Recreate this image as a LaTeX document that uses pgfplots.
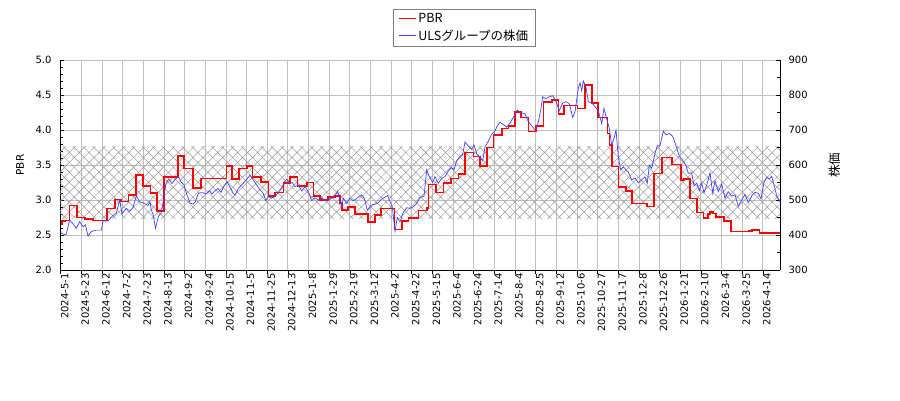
\documentclass[border=0pt]{standalone}
\usepackage{fontspec}
\setmainfont{DejaVu Sans}
\newfontfamily\cjk{Noto Sans CJK JP}
\usepackage{pgfplots}
\pgfplotsset{compat=1.18}
\usetikzlibrary{patterns.meta}

\definecolor{pbrred}{rgb}{1,0,0}
\definecolor{priceblue}{rgb}{0.25,0.25,1}
\definecolor{gridgray}{gray}{0.75}
\definecolor{hatchgray}{gray}{0.6}

% x positions are in chart units (one unit per pixel of the 720-wide plot area)
\pgfplotsset{
  chartbase/.style={
    scale only axis, width=720pt, height=210pt,
    xmin=60, xmax=780,
    tick align=inside,
    major tick length=4pt, minor tick length=3pt,
    tick style={black, line width=0.6pt},
    every tick label/.append style={font=\fontsize{10}{12}\selectfont},
    /pgf/number format/assume math mode=true,
    axis line style={line width=0.8pt},
  }
}

\begin{document}
\begin{tikzpicture}
\useasboundingbox (-60pt,-130pt) rectangle (840pt,270pt);

% --- left axis: PBR ---
\begin{axis}[chartbase,
  axis x line*=bottom, axis y line*=left,
  ymin=2, ymax=5, ytick={2,2.5,...,5}, minor y tick num=4,
  yticklabel style={xshift=-5pt, /pgf/number format/.cd, fixed, fixed zerofill, precision=1},
  xtick={60.7,81.35,102.0,122.65,143.3,163.95,184.6,205.25,225.9,246.55,267.2,287.85,308.5,329.15,349.8,370.45,391.1,411.75,432.4,453.05,473.7,494.35,515.0,535.65,556.3,576.95,597.6,618.25,638.9,659.55,680.2,700.85,721.5,742.15,762.8},
  xticklabels={2024-5-1,2024-5-23,2024-6-12,2024-7-2,2024-7-23,2024-8-13,2024-9-2,2024-9-24,2024-10-15,2024-11-5,2024-11-25,2024-12-13,2025-1-8,2025-1-29,2025-2-19,2025-3-12,2025-4-2,2025-4-22,2025-5-15,2025-6-4,2025-6-24,2025-7-14,2025-8-4,2025-8-25,2025-9-12,2025-10-6,2025-10-27,2025-11-17,2025-12-8,2025-12-26,2026-1-21,2026-2-10,2026-3-4,2026-3-25,2026-4-14},
  xtick style={yshift=-4pt},
  xticklabel style={rotate=90, anchor=east, yshift=-4pt},
  grid=major, major grid style={gridgray, line width=0.8pt},
  ylabel={PBR}, ylabel style={at={(axis description cs:-0.0556,0.5)}, anchor=center, font=\fontsize{10.5}{12}\selectfont},
]
% hatched band
\addplot[draw=none, pattern={Hatch[angle=45,distance=7pt,line width=0.5pt]}, pattern color=hatchgray]
  coordinates {(60,2.73) (780,2.73) (780,3.77) (60,3.77)} -- cycle;

% PBR (step)
\addplot[pbrred, line width=1.6pt, const plot] coordinates {
(60.7,2.66) (62,2.70) (65.3,2.71) (69.7,2.92) (77.3,2.75) (85.3,2.73) (93,2.71)
(107.3,2.88) (115.3,3.01) (121.3,2.98) (128.7,3.07) (136.3,3.36) (143,3.20)
(150.7,3.10) (157.3,2.84) (164,3.33) (178,3.63) (184,3.45) (193,3.17) (200.7,3.31)
(226.3,3.49) (232,3.30) (239,3.45) (246.7,3.49) (252.3,3.33) (261,3.26) (268.3,3.06)
(275,3.11) (283.3,3.24) (290,3.33) (297.3,3.20) (306.7,3.25) (313.3,3.06) (320,3.00)
(327.7,3.04) (335,3.06) (340,2.96) (341.7,2.86) (347.7,2.90) (355,2.80) (367.7,2.69)
(375,2.79) (381,2.88) (394.3,2.58) (401.7,2.70) (408.3,2.74) (418.3,2.85) (426.7,2.89)
(428.3,3.22) (436,3.11) (443.3,3.24) (450.7,3.31) (458.3,3.37) (465,3.68) (473.3,3.62)
(480,3.49) (486.7,3.75) (493.3,3.93) (501.7,4.02) (508.3,4.06) (515,4.26) (520.7,4.18)
(528.3,3.98) (536,4.06) (543.3,4.40) (551.7,4.43) (558.3,4.23) (564,4.35) (577.3,4.31)
(585,4.64) (591.7,4.39) (597.7,4.18) (607.3,3.95) (609.3,3.79) (611.7,3.48) (618.3,3.19)
(626,3.13) (631.7,2.95) (646.7,2.91) (654,3.38) (661.7,3.61) (671.7,3.51) (680.7,3.29)
(684,3.30) (690,3.02) (696.7,2.82) (703.3,2.74) (708,2.80) (710,2.83) (713,2.81)
(716,2.76) (724,2.70) (730.7,2.55) (749,2.56) (751.7,2.57) (759.3,2.53) (780,2.53)
};
\end{axis}

% --- right axis: share price ---
\begin{axis}[chartbase,
  axis x line=none, axis y line*=right,
  ymin=300, ymax=900, ytick={300,400,...,900}, minor y tick num=1,
  yticklabel style={xshift=5pt},
  ylabel={\cjk 株価}, ylabel style={at={(axis description cs:1.076,0.5)}, anchor=center, font=\fontsize{12.5}{14}\selectfont},
  legend style={at={(0.561,1.243)}, anchor=north, draw=gray, fill=white,
    font=\cjk\fontsize{12.5}{14}\selectfont, cells={anchor=west}, row sep=2pt,
    inner xsep=5pt, inner ysep=2pt},
  legend image code/.code={\draw[#1] (0pt,0pt) -- (17pt,0pt);},
]
\addlegendimage{pbrred, line width=1.6pt}
\addlegendentry{PBR}
\addplot[priceblue, line width=0.7pt] coordinates {
(60.7,407) (63,403) (66,400) (69.7,443) (73,432) (76.3,419) (79.7,438) (83,424)
(85.5,429) (88,397) (91.3,410) (96.3,414) (101.3,414) (103,440) (108,440) (113,456)
(116.3,462) (119.7,500) (122,460) (126.3,476) (129.7,468) (133,478) (136.3,512)
(139.7,495) (144,491) (148,484) (150,495) (151.3,471) (153,460) (155.5,419) (158.5,454)
(161,462) (163.5,500) (166,549) (168.7,560) (172,547) (175,559) (178.5,567) (181,552)
(184,543) (187,514) (190,492) (193,488) (195.3,495) (198.5,520) (203,521) (206,517)
(209.5,527) (212,517) (215,526) (218,533) (221,522) (224,540) (227,552) (230,537)
(233,520) (235,514) (238.3,533) (243.3,548) (246.7,559) (250,571) (253.3,557)
(256.7,543) (260,529) (263.3,519) (265.7,498) (268.3,510) (271.7,505) (275,510)
(278.3,521) (281.7,533) (284.3,552) (286.7,559) (290,548) (292.3,550) (295,538)
(298.3,543) (301.7,526) (305,538) (308.3,524) (311.7,498) (315,506) (318.3,500)
(321.7,505) (325,498) (330,502) (335,512) (337.7,525) (340,498) (341.7,482) (343.3,505)
(346.7,490) (350,505) (353.3,498) (355.7,502) (359,510) (361.7,514) (364.3,505)
(367.3,471) (371.7,486) (375,488) (378.3,492) (381.7,503) (385,508) (387.7,513)
(390,495) (392.3,480) (395,411) (397.3,450) (400,438) (403.3,465) (406.7,478) (410,476)
(413,480) (416.7,490) (420,507) (424,511) (426.7,586) (429.3,567) (432.7,550) (435,567)
(438.3,548) (441.7,562) (445,567) (448.3,583) (451.7,593) (454,586) (456.7,612)
(460,625) (462.7,631) (465,666) (468.3,654) (471.7,645) (474,657) (476.7,633) (480,622)
(482.7,612) (485,652) (488.3,668) (491.7,688) (495,697) (497.3,712) (500,722)
(503.3,716) (506.7,708) (510,720) (514,740) (517.3,757) (520.7,750) (525,746)
(528.3,724) (531.7,712) (535,700) (538.3,722) (540.7,757) (542.7,795) (546,789)
(549.3,795) (552.7,798) (556,782) (559.3,755) (562.7,777) (566,781) (569.3,775)
(572.7,736) (575,752) (578.3,819) (580,835) (581.7,812) (583.3,840) (586,822)
(588.3,781) (591.7,777) (595,767) (598.3,755) (601.7,718) (604,762) (606.7,731)
(609.3,705) (611.7,657) (614,676) (616,700) (618.3,624) (620.7,586) (623.3,595)
(626,586) (628.3,580) (631.7,557) (635,563) (638.3,549) (641.7,558) (645,566)
(647.3,548) (649.3,600) (651.7,590) (655,633) (657.3,655) (660,655) (663.3,697)
(666,686) (669.3,690) (672.7,682) (676,655) (679.3,625) (682.7,614) (686,598)
(688.3,576) (691.7,578) (694,540) (696.7,548) (699.3,526) (701.7,548) (704,521)
(706.7,542) (710,578) (712.7,519) (715,555) (718.3,524) (721.7,546) (725,505)
(728.3,524) (731.7,511) (735,515) (738.3,482) (741.7,500) (745,516) (748.3,492)
(751.7,512) (755,522) (758.3,519) (761,503) (764,550) (766.7,565) (769.3,560)
(771.7,568) (774,543) (776.7,512) (780,495)
};
\addlegendentry{ULSグループの株価}
\end{axis}
\end{tikzpicture}
\end{document}
